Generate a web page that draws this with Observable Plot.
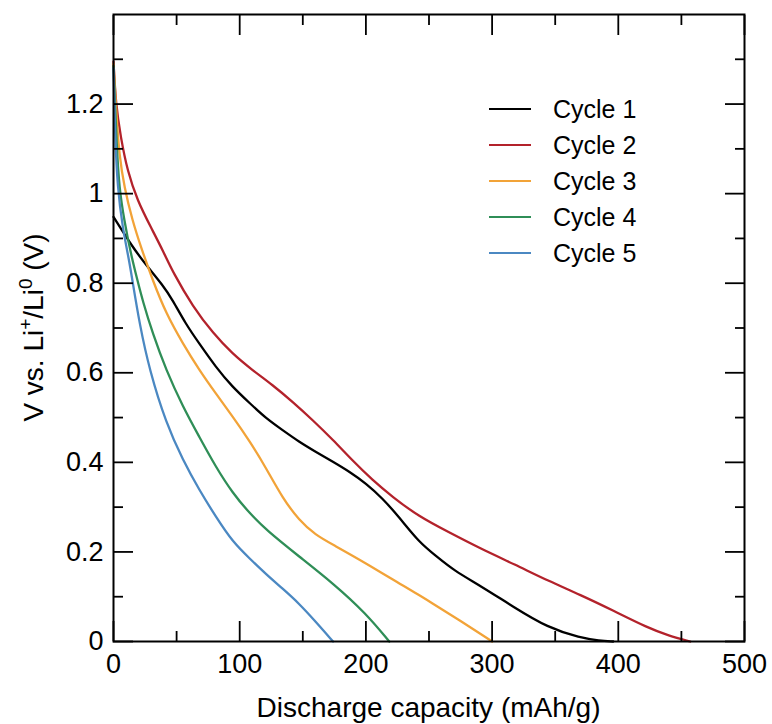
<!DOCTYPE html>
<html><head><meta charset="utf-8">
<script src="https://cdn.jsdelivr.net/npm/d3@7"></script>
<script src="https://cdn.jsdelivr.net/npm/@observablehq/plot@0.6"></script>
<style>
body{margin:0;background:#fff;font-family:"Liberation Sans",Arial,sans-serif}
#wrap{position:relative;width:772px;height:724px}
#legend{position:absolute;left:489px;top:91px;font-size:25px;color:#000}
.row{display:flex;align-items:center;height:36px}
.sw{width:42px;height:2.4px;margin-right:22px}
</style></head><body><div id="wrap"><div id="legend"></div></div>
<script>
const seriesNames = ["Cycle 1","Cycle 2","Cycle 3","Cycle 4","Cycle 5"];
const seriesColors = ["#000000","#b3222b","#f2a338","#2f8e57","#4b88c2"];

const cycle1Cap = [0,15,26,39,47,57,68,81,94,108,121,134,147,160,174,187,200,213,226,242,256,270,291,317,344,370,385,396];
const cycle1V   = [0.948,0.881,0.840,0.796,0.762,0.710,0.665,0.613,0.569,0.532,0.498,0.472,0.446,0.424,0.401,0.379,0.353,0.320,0.279,0.222,0.190,0.158,0.124,0.077,0.031,0.008,0.002,0];

const cycle2Cap = [0,1.8,5.8,11,19,29.6,40,47,63,79,94,110,126,142,158,174,189,205,221,242,265,291,318,344,370,396,423,440,457];
const cycle2V   = [1.295,1.20,1.125,1.051,0.984,0.925,0.868,0.825,0.747,0.688,0.643,0.606,0.573,0.535,0.494,0.450,0.405,0.361,0.323,0.279,0.245,0.207,0.172,0.136,0.104,0.069,0.031,0.013,0];

const cycle3Cap = [0,2.6,4.5,8.5,15,21.8,31,41.7,55,68,81,94.5,108,121,134,147,160,174,200,226,242,250,275,300];
const cycle3V   = [1.29,1.163,1.089,1.014,0.94,0.880,0.807,0.732,0.665,0.606,0.554,0.502,0.447,0.387,0.320,0.271,0.238,0.216,0.175,0.130,0.104,0.090,0.046,0];

const cycle4Cap = [0,2.6,4.5,8.5,13.7,19,23,31,41.7,55,68,81,94.5,108,121,147,174,200,218.5];
const cycle4V   = [1.285,1.103,1.014,0.94,0.866,0.806,0.762,0.688,0.606,0.524,0.457,0.390,0.331,0.286,0.249,0.190,0.130,0.063,0];

const cycle5Cap = [0,1.3,3.2,7.1,12.4,15,20.6,28.5,41.7,55,68,81,94.5,108,121,134,147,160,174];
const cycle5V   = [1.28,1.125,1.014,0.925,0.851,0.806,0.710,0.606,0.487,0.405,0.338,0.279,0.222,0.185,0.150,0.118,0.085,0.045,0];

const xMajor = [0,100,200,300,400,500];
const xMinor = [50,150,250,350,450];
const yMajor = [0,0.2,0.4,0.6,0.8,1,1.2];
const yMinor = [0.1,0.3,0.5,0.7,0.9,1.1,1.3];
const xTitle = "Discharge capacity (mAh/g)";

const caps = [cycle1Cap,cycle2Cap,cycle3Cap,cycle4Cap,cycle5Cap];
const volts = [cycle1V,cycle2V,cycle3V,cycle4V,cycle5V];
const rows = [];
seriesNames.forEach((name,i)=>caps[i].forEach((c,j)=>rows.push({series:name,cap:c,v:volts[i][j]})));

const W=772,H=724,mL=113,mR=28,mT=14,mB=83;
const font = "Liberation Sans, Arial, Helvetica, sans-serif";
const tickW = 1.8;

const chart = Plot.plot({
  width:W, height:H, marginLeft:mL, marginRight:mR, marginTop:mT, marginBottom:mB,
  style:{fontFamily:font, background:"white", color:"black", overflow:"visible"},
  x:{domain:[0,500]},
  y:{domain:[0,1.4]},
  color:{domain:seriesNames, range:seriesColors},
  marks:[
    Plot.lineY(rows,{x:"cap", y:"v", stroke:"series", z:"series", strokeWidth:2.3, curve:"basis"}),
    Plot.axisX(xMajor,{anchor:"bottom", tickSize:20, dy:-20, fill:"none", strokeWidth:tickW}),
    Plot.axisX(xMinor,{anchor:"bottom", tickSize:10, dy:-10, fill:"none", strokeWidth:tickW}),
    Plot.axisX(xMajor,{anchor:"top", tickSize:20, dy:20, fill:"none", strokeWidth:tickW}),
    Plot.axisX(xMinor,{anchor:"top", tickSize:10, dy:10, fill:"none", strokeWidth:tickW}),
    Plot.axisY(yMajor,{anchor:"left", tickSize:20, dx:20, fill:"none", strokeWidth:tickW}),
    Plot.axisY(yMinor,{anchor:"left", tickSize:10, dx:10, fill:"none", strokeWidth:tickW}),
    Plot.axisY(yMajor,{anchor:"right", tickSize:20, dx:-20, fill:"none", strokeWidth:tickW}),
    Plot.axisY(yMinor,{anchor:"right", tickSize:10, dx:-10, fill:"none", strokeWidth:tickW}),
    Plot.axisX(xMajor,{anchor:"bottom", tickSize:0, tickPadding:12, fontSize:27, label:null, tickFormat:d=>String(d)}),
    Plot.axisY(yMajor,{anchor:"left", tickSize:0, tickPadding:10, fontSize:27, label:null, tickFormat:d=>String(d)}),
    Plot.frame({stroke:"black", strokeWidth:2})
  ]
});

const svg = d3.select(chart);
const cx = mL + (W-mL-mR)/2, cy = mT + (H-mT-mB)/2;
svg.append("text").attr("x",cx).attr("y",717).attr("text-anchor","middle")
  .attr("font-size",28).attr("font-family",font).attr("fill","black").text(xTitle);
const yt = svg.append("text").attr("transform",`translate(43,${cy}) rotate(-90)`)
  .attr("text-anchor","middle").attr("font-size",28).attr("font-family",font).attr("fill","black");
yt.append("tspan").text("V vs. Li");
yt.append("tspan").attr("dy",-11).attr("font-size",19).text("+");
yt.append("tspan").attr("dy",11).text("/Li");
yt.append("tspan").attr("dy",-11).attr("font-size",19).text("0");
yt.append("tspan").attr("dy",11).text(" (V)");

const wrap = document.getElementById("wrap");
wrap.insertBefore(chart, wrap.firstChild);

const legend = document.getElementById("legend");
seriesNames.forEach((n,i)=>{
  const r = document.createElement("div"); r.className="row";
  const s = document.createElement("div"); s.className="sw"; s.style.background=seriesColors[i];
  const t = document.createElement("span"); t.textContent=n;
  r.appendChild(s); r.appendChild(t); legend.appendChild(r);
});
</script></body></html>
